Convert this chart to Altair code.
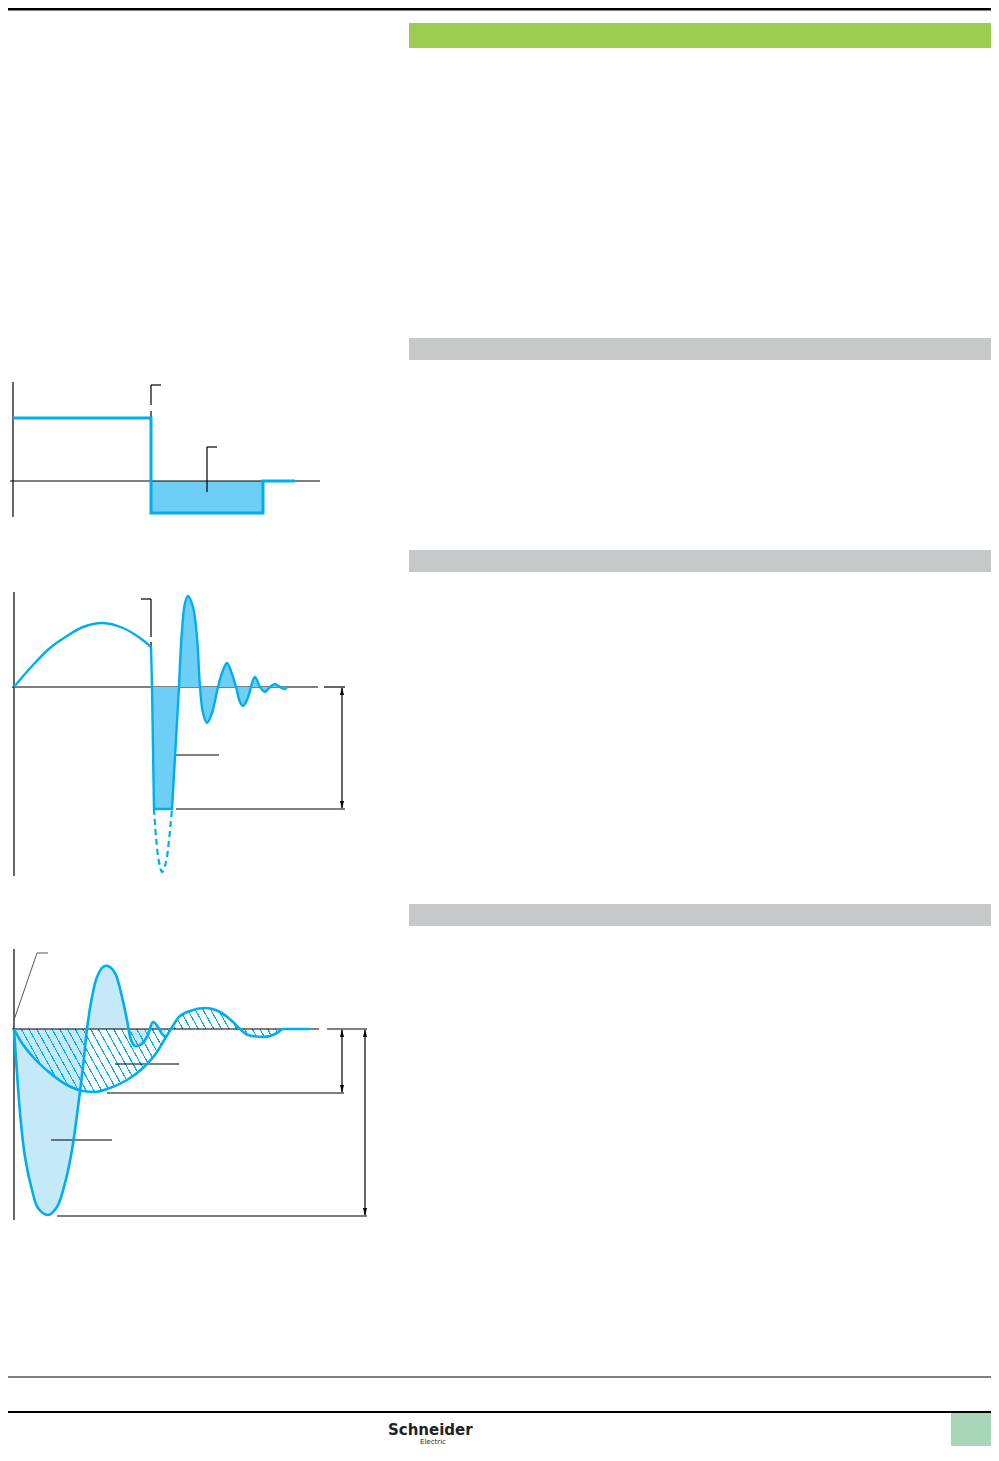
import math
import altair as alt
import pandas as pd

# ---------------- data ----------------
# Diagram 1: limited current (step), local time / amplitude units
p1_t = [0, 138, 138, 250, 250, 282]
p1_a = [63, 63, -32, -32, 0, 0]

# Diagram 2: current before fault, limited lobe, oscillation, prospective lobe
p2_arch_t = [0, 19, 36, 53, 69, 89, 109, 126, 137]
p2_arch_a = [0, 22, 39, 51, 60, 64, 59, 49, 40]
p2_lim_t = [137, 138, 140, 158, 165]
p2_lim_a = [40, 0, -122, -122, 0]
p2_osc_t = [165, 168, 171, 174, 179, 183, 186, 189, 193, 198, 204, 208, 213, 218,
            222, 226, 229, 233, 237, 239, 241, 243, 246, 251, 256, 261, 266, 271, 273]
p2_osc_a = [0, 57, 84, 91, 80, 50, 0, -26, -36, -26, 0, 14, 24, 13,
            0, -15, -19, -13, 0, 7, 10, 7, 0, -5, 0, 3, 0, -2, 0]
p2_pro_t = [140, 142, 145, 148, 152, 155, 158]
p2_pro_a = [-122, -150, -175, -185, -175, -153, -122]

# Diagram 3: two transient curves
p3_a_t = [0, 3, 6, 11, 18, 24, 34, 43, 51, 58, 64, 69, 73, 78, 83, 89, 94, 101,
          108, 113, 117, 121, 126, 133, 139, 144, 148, 152]
p3_a_a = [0, -44, -84, -128, -161, -179, -186, -178, -154, -121, -78, -38, 0, 32,
          52, 62, 63, 56, 32, 9, -11, -17, -16, -8, 7, 2, -5, -8]
p3_b_t = [0, 6, 19, 36, 53, 69, 81, 96, 113, 129, 143, 152, 157, 164, 176, 191,
          206, 219, 226, 234, 249, 263, 269, 296]
p3_b_a = [0, -11, -28, -44, -56, -62, -63, -59, -51, -39, -23, -8, 0, 11, 18, 21,
          17, 7, 0, -6, -8, -4, 0, 0]

logo_main = ["Schneider"]
logo_sub = ["Electric"]

# ---------------- layout / style ----------------
OFF = 8
W, H = 983, 1438
BLUE = "#00aeef"
FILL = "#6dcff6"
FILL_LIGHT = "#c6e9f9"
GREEN = "#9bcb4f"
GREY = "#c7c8ca"
FOOT_GREEN = "#a8d7b7"
RIGHT = OFF + W
BOTTOM = OFF + H


def sxp():
    return alt.Scale(domain=[OFF, OFF + W], range=[0, W], nice=False, zero=False)


def syp():
    return alt.Scale(domain=[OFF, OFF + H], range=[0, H], nice=False, zero=False)


def sxl(x0):
    return alt.Scale(domain=[0, 100], range=[x0 - OFF, x0 - OFF + 100], nice=False, zero=False)


def syl(y0):
    return alt.Scale(domain=[0, 100], range=[y0 - OFF, y0 - OFF - 100], nice=False, zero=False)


def page_rect(rows, color):
    df = pd.DataFrame(rows, columns=["x0", "x1", "y0", "y1"])
    return alt.Chart(df).mark_rect(color=color).encode(
        x=alt.X("x0:Q", scale=sxp(), axis=None), x2="x1:Q",
        y=alt.Y("y0:Q", scale=syp(), axis=None), y2="y1:Q")


def page_rules(rows, color="black", width=1.2):
    df = pd.DataFrame(rows, columns=["x0", "y0", "x1", "y1"])
    return alt.Chart(df).mark_rule(color=color, strokeWidth=width).encode(
        x=alt.X("x0:Q", scale=sxp(), axis=None), x2="x1:Q",
        y=alt.Y("y0:Q", scale=syp(), axis=None), y2="y1:Q")


def arrows(rows, up=True):
    df = pd.DataFrame(rows, columns=["x", "y"])
    shape = "M0,0L-0.25,1L0.25,1Z" if up else "M0,0L-0.25,-1L0.25,-1Z"
    return alt.Chart(df).mark_point(shape=shape, filled=True, size=256, color="black",
                                    opacity=1, strokeWidth=0).encode(
        x=alt.X("x:Q", scale=sxp(), axis=None),
        y=alt.Y("y:Q", scale=syp(), axis=None))


def curve(t, a, origin, mark="line", interp="catmull-rom", **kw):
    df = pd.DataFrame({"t": t, "a": a, "i": range(len(t))})
    x = alt.X("t:Q", scale=sxl(origin[0]), axis=None)
    y = alt.Y("a:Q", scale=syl(origin[1]), axis=None)
    if mark == "line":
        return alt.Chart(df).mark_line(interpolate=interp, **kw).encode(
            x=x, y=y, order=alt.Order("i:Q"))
    return alt.Chart(df).mark_area(interpolate=interp, opacity=1, **kw).encode(
        x=x, y=y, y2=alt.datum(0))


def hatch_gradient(bw, bh, slope=1.8, spacing=7.7, lw=1.1, color=BLUE):
    a = slope / bh
    b = 1.0 / bw
    s = (a + b) / (a * a + b * b)
    x2 = s * a
    y2 = 1 - s * b
    dt = (a / (a + b)) / bw
    period = spacing * dt
    w = lw / math.sin(math.atan(slope)) * dt
    clear = "rgba(0,174,239,0)"
    stops = []
    off = period * 0.4
    while off + w < 1:
        stops += [alt.GradientStop(offset=off, color=clear),
                  alt.GradientStop(offset=off, color=color),
                  alt.GradientStop(offset=off + w, color=color),
                  alt.GradientStop(offset=off + w, color=clear)]
        off += period
    return alt.Gradient(gradient="linear", stops=stops, x1=0, y1=1, x2=x2, y2=y2)


layers = []

# ---- page furniture ----
layers.append(page_rect([[OFF, RIGHT, OFF, OFF + 2.5]], "black"))
layers.append(page_rect([[409, RIGHT, 23, 48]], GREEN))
layers.append(page_rect([[409, RIGHT, 338, 360], [409, RIGHT, 550, 572],
                         [409, RIGHT, 904, 926]], GREY))
layers.append(page_rules([[OFF, 1377, RIGHT, 1377]], width=1.2))
layers.append(page_rules([[OFF, 1412, RIGHT, 1412]], width=2))
layers.append(page_rect([[951, RIGHT, 1413, BOTTOM]], FOOT_GREEN))

# ---- diagram 1 ----
O1 = (13, 481)
df1f = pd.DataFrame({"t0": [p1_t[2]], "t1": [p1_t[3]], "a0": [p1_a[2]], "a1": [0]})
layers.append(alt.Chart(df1f).mark_rect(color=FILL).encode(
    x=alt.X("t0:Q", scale=sxl(O1[0]), axis=None), x2="t1:Q",
    y=alt.Y("a0:Q", scale=syl(O1[1]), axis=None), y2="a1:Q"))
layers.append(page_rules([[13, 382, 13, 517], [10, 481, 320, 481],
                          [151, 385, 151, 405], [151, 411, 151, 417], [151, 385, 161, 385],
                          [207, 447, 207, 492], [207, 447, 217, 447]]))
layers.append(curve(p1_t, p1_a, O1, interp="linear", color=BLUE, strokeWidth=3))

# ---- diagram 2 ----
O2 = (14, 687)
layers.append(page_rules([[14, 592, 14, 876], [12, 687, 318, 687], [324, 687, 345, 687],
                          [151, 599, 151, 637], [151, 642, 151, 647], [141, 599, 151, 599],
                          [342, 688, 342, 808], [176, 809, 345, 809], [166, 755, 219, 755]]))
layers.append(curve(p2_lim_t[1:], p2_lim_a[1:], O2, mark="area", interp="linear", color=FILL))
layers.append(curve(p2_osc_t, p2_osc_a, O2, mark="area", color=FILL))
layers.append(curve(p2_arch_t, p2_arch_a, O2, color=BLUE, strokeWidth=2.4))
layers.append(curve(p2_lim_t, p2_lim_a, O2, interp="linear", color=BLUE, strokeWidth=2.4))
layers.append(curve(p2_osc_t, p2_osc_a, O2, color=BLUE, strokeWidth=2.4))
layers.append(curve(p2_pro_t, p2_pro_a, O2, color=BLUE, strokeWidth=2.2, strokeDash=[6, 4]))
layers.append(arrows([[342, 687]], up=True))
layers.append(arrows([[342, 809]], up=False))

# ---- diagram 3 ----
O3 = (14, 1029)
bw = max(p3_b_t) - min(p3_b_t)
bh = max(p3_b_a) - min(p3_b_a)
layers.append(curve(p3_a_t, p3_a_a, O3, mark="area", color=FILL_LIGHT))
layers.append(curve(p3_b_t, p3_b_a, O3, mark="area", interp="monotone",
                    color=hatch_gradient(bw, bh)))
layers.append(page_rules([[14, 949, 14, 1220], [12, 1029, 319, 1029], [327, 1029, 367, 1029],
                          [342, 1030, 342, 1092], [107, 1093, 344, 1093],
                          [365, 1030, 365, 1215], [57, 1216, 367, 1216],
                          [115, 1064, 179, 1064], [51, 1140, 112, 1140]]))
layers.append(page_rules([[14, 1020, 37, 953], [37, 953, 48, 953]], color="#555555", width=1))
layers.append(curve(p3_b_t, p3_b_a, O3, interp="monotone", color=BLUE, strokeWidth=2.6))
layers.append(curve(p3_a_t, p3_a_a, O3, color=BLUE, strokeWidth=2.6))
layers.append(arrows([[342, 1029], [365, 1029]], up=True))
layers.append(arrows([[342, 1093], [365, 1216]], up=False))

# ---- logo ----
layers.append(alt.Chart(pd.DataFrame({"label": logo_main, "x": [388], "y": [1434.5]})).mark_text(
    font="DejaVu Sans", fontWeight="bold", fontSize=15, align="left", baseline="alphabetic",
    color="#222222").encode(
    x=alt.X("x:Q", scale=sxp(), axis=None), y=alt.Y("y:Q", scale=syp(), axis=None), text="label:N"))
layers.append(alt.Chart(pd.DataFrame({"label": logo_sub, "x": [420], "y": [1444]})).mark_text(
    font="DejaVu Sans", fontSize=7, align="left", baseline="alphabetic",
    color="#222222").encode(
    x=alt.X("x:Q", scale=sxp(), axis=None), y=alt.Y("y:Q", scale=syp(), axis=None), text="label:N"))

chart = alt.layer(*layers).resolve_scale(x="independent", y="independent").properties(
    width=W, height=H, padding=0, autosize=alt.AutoSizeParams(type="none"),
    background="white").configure_view(strokeOpacity=0)

chart.save("out.html", embed_options={"renderer": "svg", "actions": False})
